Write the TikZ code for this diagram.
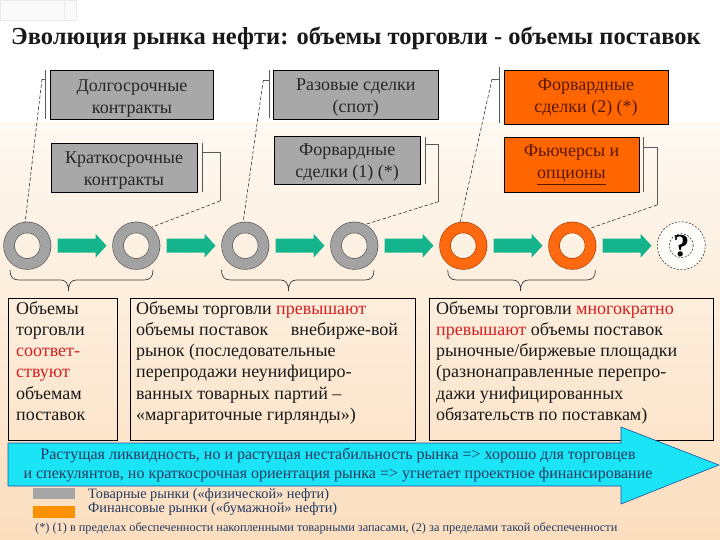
\documentclass[tikz,border=0pt]{standalone}
\usepackage{fontspec}
\setmainfont{Liberation Serif}
\usetikzlibrary{calc}
\definecolor{peachtop}{HTML}{FEF9F2}
\definecolor{peachbot}{HTML}{FBDEBE}
\definecolor{boxgray}{HTML}{A8A8A8}
\definecolor{boxorange}{HTML}{FF6600}
\definecolor{ringgray}{HTML}{A3A3A3}
\definecolor{ringgrayline}{HTML}{505050}
\definecolor{ringorange}{HTML}{FF6A10}
\definecolor{ringorangeline}{HTML}{A03A00}
\definecolor{arrgreen}{HTML}{14B48C}
\definecolor{arrcyan}{HTML}{1AE4F5}
\definecolor{arrcyanline}{HTML}{2050A0}
\definecolor{navytxt}{HTML}{243A63}
\definecolor{redtxt}{HTML}{D42020}
\definecolor{browntxt}{HTML}{5A1800}
\definecolor{leggray}{HTML}{A6A6A6}
\definecolor{legorange}{HTML}{FF9000}
\tikzset{
  graybox/.style={draw=black, line width=0.8pt, fill=boxgray, inner sep=0pt},
  orangebox/.style={draw=black, line width=0.8pt, fill=boxorange, inner sep=0pt},
  graytxt/.style={inner sep=0pt, align=center, text=black!85, font=\fontsize{18}{22}\selectfont},
  orangetxt/.style={inner sep=0pt, align=center, text=browntxt, font=\fontsize{18}{22.5}\selectfont},
  ringanchor/.style={circle, minimum size=48pt, inner sep=0pt},
  ringg/.style={draw=ringgrayline, line width=0.6pt, double=ringgray, double distance=10.3pt},
  ringo/.style={draw=ringorangeline, line width=0.6pt, double=ringorange, double distance=10.3pt},
  greenarr/.style={fill=arrgreen},
  barline/.style={draw=black!65, line width=0.6pt},
  callout/.style={draw=black!85, line width=0.55pt, dash pattern=on 3.5pt off 2pt},
  bracestyle/.style={draw=black!75, line width=0.7pt},
  txtframe/.style={draw=black, line width=0.8pt, inner sep=0pt},
  bodytxt/.style={anchor=north west, inner sep=0pt, align=left, text=black!90,
    font=\fontsize{18}{21.3}\selectfont},
}
\newcommand\mybrace[3]{%
  \draw[bracestyle] (#1,270) .. controls (#1,277) and ({#1+3},280) .. ({#1+9},280)
    -- ({#2-8},280) .. controls ({#2-3},280) and (#2,283) .. (#2,291)
    .. controls (#2,283) and ({#2+3},280) .. ({#2+8},280)
    -- ({#3-9},280) .. controls ({#3-3},280) and (#3,277) .. (#3,270);}
\newcommand\greenarrow[1]{%
  \fill[greenarr] ($(#1.east)+(6,-7)$) -- ++(38,0) -- ++(0,-5) -- ++(11,12)
    -- ++(-11,12) -- ++(0,-5) -- ++(-38,0) -- cycle;}
\begin{document}
\begin{tikzpicture}[x=1pt,y=-1pt]
\useasboundingbox (0,0) rectangle (720,540);
% background
\fill[white] (0,0) rectangle (720,540);
\shade[top color=peachtop, bottom color=peachbot] (0,123) rectangle (720,540);
\fill[black!2, draw=black!8, line width=0.4pt] (0,0) rectangle (76,20);
\draw[black!7, line width=0.4pt] (64,0) -- (64,20);

% title
\node[font=\fontsize{24.5}{30}\selectfont\bfseries, text=black!90] (title) at (356,38)
  {Эволюция рынка нефти: объемы торговли - объемы поставок};

% boxes
\node[graybox, minimum width=162.6pt, minimum height=48.3pt] (L1) at (132,94.8) {};
\node[graybox, minimum width=146pt, minimum height=49pt] (L2) at (124,167.5) {};
\node[graybox, minimum width=165pt, minimum height=49pt] (M1) at (355.8,94.5) {};
\node[graybox, minimum width=145.7pt, minimum height=47.6pt] (M2) at (347.2,160.5) {};
\node[orangebox, minimum width=164pt, minimum height=54pt] (R1) at (586,97) {};
\node[orangebox, minimum width=135pt, minimum height=55pt] (R2) at (571.5,164.5) {};
\node[graytxt] (L1x) at ([yshift=-3.5pt]L1.center) {Долгосрочные\\контракты};
\node[graytxt] (L2x) at ([yshift=-3pt]L2.center) {Краткосрочные\\контракты};
\node[graytxt] (M1x) at ([yshift=-3.5pt]M1.center) {Разовые сделки\\(спот)};
\node[graytxt] (M2x) at ([yshift=-2.5pt]M2.center) {Форвардные\\сделки (1) (*)};
\node[orangetxt] (R1x) at ([yshift=-0.5pt]R1.center) {Форвардные\\сделки (2) (*)};
\node[orangetxt] (R2x) at ([yshift=0pt]R2.center) {Фьючерсы и\\\underline{опционы}};

% rings
\foreach \i/\x in {1/27.3,2/136.3,3/245.3,4/354.3,5/463.3,6/572.3,7/681.3}
  \node[ringanchor] (r\i) at (\x,245.7) {};
\foreach \i in {1,2,3,4}
  \draw[ringg] (r\i.center) circle (18.25pt);
\foreach \i in {5,6}
  \draw[ringo] (r\i.center) circle (18.25pt);
\fill[white!60!peachtop] (r7.center) circle (24pt);
\draw[black!75, line width=0.6pt, dash pattern=on 2pt off 1.5pt] (r7.center) circle (24pt);
\draw[black!75, line width=0.6pt, dash pattern=on 2pt off 1.5pt] (r7.center) circle (12pt);
\node[font=\fontsize{32}{32}\selectfont\bfseries, inner sep=0pt] (qm) at (r7.center) {?};

% green arrows
\foreach \i in {1,...,6} { \greenarrow{r\i} }

% callouts, left group
\coordinate (L1a) at (45,70); \coordinate (L1b) at (45,119); \coordinate (L1t) at (42,79);
\draw[barline] (L1a) -- (L1b);
\draw[barline] (45,79) -- (L1t);
\draw[callout] (L1t) -- (r1.95);
\coordinate (L2a) at (202,143); \coordinate (L2b) at (202,192);
\coordinate (L2t) at (220,152); \coordinate (L2e) at (220,201);
\draw[barline] (L2a) -- (L2b);
\draw[barline] (202,152) -- (L2t) -- (L2e);
\draw[callout] (L2e) -- (r2.50);
% middle group
\coordinate (M1a) at (269.3,70); \coordinate (M1b) at (269.3,118); \coordinate (M1t) at (263.3,80);
\draw[barline] (M1a) -- (M1b);
\draw[barline] (269.3,80) -- (M1t);
\draw[callout] (M1t) -- (r3.95);
\coordinate (M2a) at (425,137); \coordinate (M2b) at (425,184.5);
\coordinate (M2t) at (438.3,144.3); \coordinate (M2e) at (438.3,201.7);
\draw[barline] (M2a) -- (M2b);
\draw[barline] (425,144.3) -- (M2t) -- (M2e);
\draw[callout] (M2e) -- (r4.62);
% right group
\coordinate (R1a) at (499,67); \coordinate (R1b) at (499,123); \coordinate (R1t) at (492,79);
\draw[barline] (R1a) -- (R1b);
\draw[barline] (499,79) -- (R1t);
\draw[callout] (R1t) -- (r5.97);
\coordinate (R2a) at (643,137); \coordinate (R2b) at (643,192);
\coordinate (R2t) at (657,147); \coordinate (R2e) at (657,205);
\draw[barline] (R2a) -- (R2b);
\draw[barline] (643,147) -- (R2t) -- (R2e);
\draw[callout] (R2e) -- (r6.45);

% braces
\mybrace{10}{68.5}{153}
\mybrace{221.5}{288.5}{374}
\mybrace{447.7}{520.6}{595.4}

% text frames
\node[txtframe, minimum width=109pt, minimum height=142pt] (fa) at (62.5,369) {};
\node[txtframe, minimum width=285pt, minimum height=142pt] (fb) at (272.5,369) {};
\node[txtframe, minimum width=284pt, minimum height=142pt] (fc) at (571,369) {};
\node[bodytxt] (ta) at (16,301) {Объемы\\торговли\\\textcolor{redtxt}{соответ-}\\\textcolor{redtxt}{ствуют}\\объемам\\поставок};
\node[bodytxt] (tb) at (136,301) {Объемы торговли \textcolor{redtxt}{превышают}\\объемы поставок\hspace{1.0em} внебирже-вой\\рынок (последовательные\\перепродажи неунифициро-\\ванных товарных партий –\\«маргариточные гирлянды»)};
\node[bodytxt] (tc) at (436,301) {Объемы торговли \textcolor{redtxt}{многократно}\\\textcolor{redtxt}{превышают} объемы поставок\\рыночные/биржевые площадки\\(разнонаправленные перепро-\\дажи унифицированных\\обязательств по поставкам)};

% big cyan arrow
\draw[fill=arrcyan, draw=arrcyanline, line width=0.6pt] (8,443) -- (621,443) -- (621,427) -- (719,465)
  -- (621,504) -- (621,486) -- (8,486) -- cycle;
\node[align=center, text=navytxt, font=\fontsize{16}{19}\selectfont, inner sep=0pt] (arrtxt) at (338,465)
  {Растущая ликвидность, но и растущая нестабильность рынка => хорошо для торговцев\\
   и спекулянтов, но краткосрочная ориентация рынка => угнетает проектное финансирование};

% legend
\node[fill=leggray, minimum width=42pt, minimum height=11pt, inner sep=0pt] (lg1) at (54,493.5) {};
\node[fill=legorange, minimum width=42pt, minimum height=12pt, inner sep=0pt] (lg2) at (54,512) {};
\node[anchor=west, inner sep=0pt, text=navytxt, font=\fontsize{14.3}{16}\selectfont] (lt1) at (88,495) {Товарные рынки («физической» нефти)};
\node[anchor=west, inner sep=0pt, text=navytxt, font=\fontsize{14.3}{16}\selectfont] (lt2) at (88,509) {Финансовые рынки («бумажной» нефти)};
\node[anchor=west, inner sep=0pt, text=navytxt, font=\fontsize{12.3}{14}\selectfont] (fn) at (35,528) {(*) (1) в пределах обеспеченности накопленными товарными запасами, (2) за пределами такой обеспеченности};
\end{tikzpicture}
\end{document}
